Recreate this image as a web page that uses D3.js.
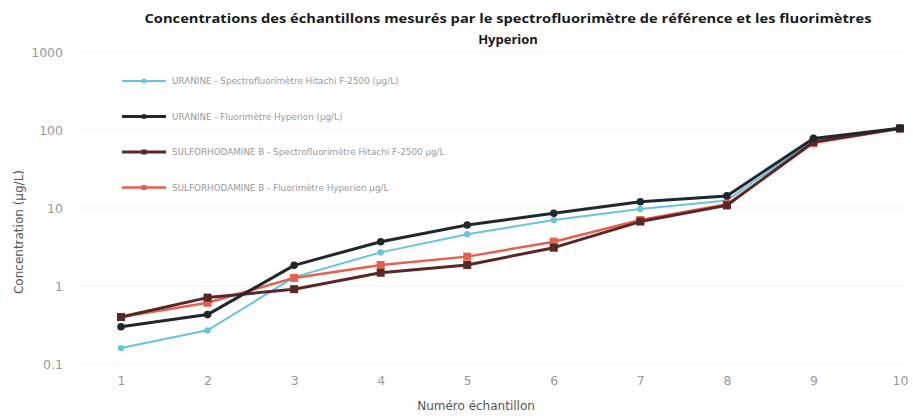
<!DOCTYPE html>
<html><head><meta charset="utf-8">
<script src="https://cdn.jsdelivr.net/npm/d3@7"></script>
<style>body{margin:0;background:#fff}svg{display:block}</style>
</head><body><svg id="c" width="913" height="416"></svg>
<script>
const samples = [1,2,3,4,5,6,7,8,9,10];
const uranineHitachi   = [0.16,0.27,1.3,2.7,4.6,7.0,9.7,12.5,74,105];
const uranineHyperion  = [0.30,0.43,1.84,3.7,6.05,8.55,12.0,14.3,78,105];
const sulfoHitachi     = [0.40,0.71,0.91,1.48,1.86,3.1,6.7,10.8,70,105];
const sulfoHyperion    = [0.40,0.61,1.27,1.86,2.38,3.7,7.0,11.2,68,104];
const seriesNames = [
  "URANINE - Spectrofluorimètre Hitachi F-2500 (µg/L)",
  "URANINE - Fluorimètre Hyperion (µg/L)",
  "SULFORHODAMINE B - Spectrofluorimètre Hitachi F-2500 µg/L",
  "SULFORHODAMINE B - Fluorimètre Hyperion µg/L"
];
const yTicks = [0.1,1,10,100,1000];
const titleLines = ["Concentrations des échantillons mesurés par le spectrofluorimètre de référence et les fluorimètres","Hyperion"];

const series = [
  {name:seriesNames[0], values:uranineHitachi, color:"#68c3df", width:2, marker:"circle", r:3.2},
  {name:seriesNames[1], values:uranineHyperion, color:"#1f282d", width:3, marker:"circle", r:3.8},
  {name:seriesNames[2], values:sulfoHitachi, color:"#5b2626", width:3, marker:"square", r:4},
  {name:seriesNames[3], values:sulfoHyperion, color:"#e5604d", width:2.5, marker:"square", r:4}
];

const FONT = "'DejaVu Sans', Verdana, sans-serif";
const svg = d3.select("#c");
const x = d3.scaleLinear().domain([1,10]).range([121,900]);
const y = d3.scaleLog().domain([0.1,1000]).range([364,52]);

// gridlines
svg.append("g").selectAll("line").data(yTicks).join("line")
  .attr("x1",80).attr("x2",905).attr("y1",d=>y(d)).attr("y2",d=>y(d))
  .attr("stroke","#f2f2f2").attr("stroke-width",1);

// y axis
const yAxis = d3.axisLeft(y).tickValues(yTicks).tickSize(0).tickPadding(0)
  .tickFormat(d=>d3.format("~g")(d));
const gy = svg.append("g").attr("transform","translate(63,0)").call(yAxis);
gy.select(".domain").remove();
gy.selectAll("text").attr("fill","#999").style("font-family",FONT).style("font-size","12.5px");

// x axis
const xAxis = d3.axisBottom(x).tickValues(samples).tickSize(0).tickPadding(0).tickFormat(d3.format("d"));
const gx = svg.append("g").attr("transform","translate(0,376)").call(xAxis);
gx.select(".domain").remove();
gx.selectAll("text").attr("fill","#999").style("font-family",FONT).style("font-size","12.5px");

// title
svg.append("g").selectAll("text").data(titleLines).join("text")
  .attr("x",508).attr("y",(d,i)=>23+i*21).attr("text-anchor","middle")
  .style("font-family","'Open Sans', sans-serif").style("font-weight","bold").style("font-size","13px")
  .attr("fill","#1a1a1a")
  .each(function(d,i){ if(i===0) d3.select(this).attr("textLength",727).attr("lengthAdjust","spacingAndGlyphs"); })
  .text(d=>d);

// axis titles
svg.append("text").attr("transform","translate(23,232) rotate(-90)").attr("text-anchor","middle")
  .style("font-family",FONT).style("font-size","12px").attr("fill","#555").text("Concentration (µg/L)");
svg.append("text").attr("x",476).attr("y",410).attr("text-anchor","middle")
  .style("font-family",FONT).style("font-size","12px").attr("fill","#555").text("Numéro échantillon");

// lines
const line = d3.line().x((d,i)=>x(samples[i])).y(d=>y(d));
const order = [0,3,2,1];
order.forEach(k=>{
  const s = series[k];
  const g = svg.append("g");
  g.append("path").attr("d",line(s.values)).attr("fill","none").attr("stroke",s.color)
    .attr("stroke-width",s.width).attr("stroke-linejoin","round");
  if(s.marker==="circle"){
    g.selectAll("circle").data(s.values).join("circle")
      .attr("cx",(d,i)=>x(samples[i])).attr("cy",d=>y(d)).attr("r",s.r).attr("fill",s.color);
  } else {
    g.selectAll("rect").data(s.values).join("rect")
      .attr("x",(d,i)=>x(samples[i])-s.r).attr("y",d=>y(d)-s.r).attr("width",2*s.r).attr("height",2*s.r).attr("fill",s.color);
  }
});

// legend
const lg = svg.append("g");
series.forEach((s,i)=>{
  const ly = 81 + i*35.5;
  lg.append("line").attr("x1",122).attr("x2",166).attr("y1",ly).attr("y2",ly).attr("stroke",s.color).attr("stroke-width",s.width);
  if(s.marker==="circle") lg.append("circle").attr("cx",144).attr("cy",ly).attr("r",2.5).attr("fill",s.color);
  else lg.append("rect").attr("x",141.5).attr("y",ly-2.5).attr("width",5).attr("height",5).attr("fill",s.color);
  lg.append("text").attr("x",172).attr("y",ly+3).style("font-family",FONT)
    .style("font-size","8.8px").attr("fill","#9a9a9a").text(s.name);
});
</script></body></html>
